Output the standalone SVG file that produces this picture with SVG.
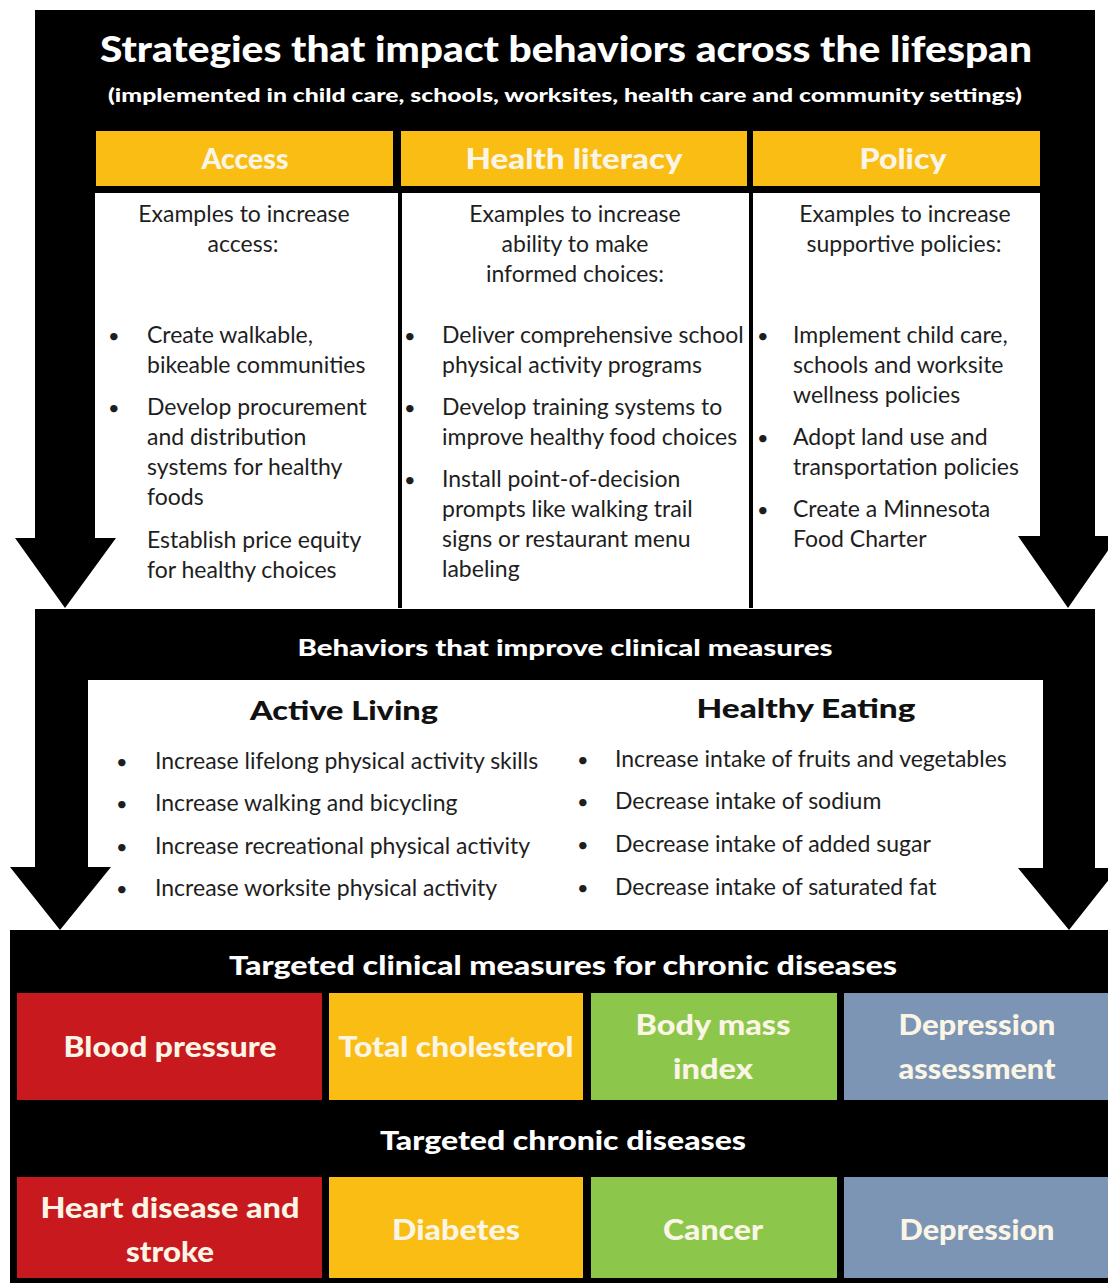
<svg xmlns="http://www.w3.org/2000/svg" width="1108" height="1283" viewBox="0 0 1108 1283">
  <style>
    .blk { fill: #000000; }
    .tab { fill: #f9bd14; }
    .panel { fill: #ffffff; }
    .h { font-family: "Lato", "Open Sans", "DejaVu Sans", sans-serif; font-weight: 900; text-anchor: middle; }
    .hw { fill: #ffffff; }
    .hc { fill: #fbf5e6; }
    .b { font-family: "Lato", "Liberation Sans", sans-serif; font-size: 23px; fill: #1e1e1e; }
    .bm { font-family: "Lato", "Liberation Sans", sans-serif; font-size: 23px; fill: #1e1e1e; }
    .dot { font-family: "Lato", "Liberation Sans", sans-serif; font-size: 20px; fill: #1e1e1e; }
    .c { text-anchor: middle; }
    .red { fill: #c8191f; }
    .gold { fill: #f9bd14; }
    .green { fill: #8cc74b; }
    .slate { fill: #7c95b4; }
  </style>

  <rect width="1108" height="1283" fill="#ffffff"/>

  <!-- Strategies header -->
  <g id="strategies-header">
    <rect class="blk" x="35" y="10" width="1060" height="183"/>
    <text class="h hw" x="566" y="62" font-size="36" textLength="932" lengthAdjust="spacingAndGlyphs">Strategies that impact behaviors across the lifespan</text>
    <text class="h hw" x="565" y="102" font-size="19" textLength="914" lengthAdjust="spacingAndGlyphs">(implemented  in child care, schools, worksites, health care and community settings)</text>
    <!-- column dividers -->
    <rect class="blk" x="398" y="186" width="4" height="422"/>
    <rect class="blk" x="749" y="186" width="4" height="422"/>
  </g>

  <!-- Access column -->
  <g id="access">
    <rect class="tab" x="96" y="131" width="297" height="55"/>
    <text class="h hc" x="245" y="169" font-size="28" textLength="87" lengthAdjust="spacingAndGlyphs">Access</text>
    <rect class="panel" x="95" y="193" width="303" height="415"/>
    <text class="b c" x="244" y="222">Examples to increase</text>
    <text class="b c" x="243" y="252">access:</text>
    <text class="dot" x="108" y="343">•</text>
    <text class="b" x="147" y="343">Create walkable,</text>
    <text class="b" x="147" y="373">bikeable communities</text>
    <text class="dot" x="108" y="415">•</text>
    <text class="b" x="147" y="415">Develop procurement</text>
    <text class="b" x="147" y="445">and distribution</text>
    <text class="b" x="147" y="475">systems for healthy</text>
    <text class="b" x="147" y="505">foods</text>
    <text class="b" x="147" y="548">Establish price equity</text>
    <text class="b" x="147" y="578">for healthy choices</text>
  </g>

  <!-- Health literacy column -->
  <g id="health-literacy">
    <rect class="tab" x="401" y="131" width="346" height="55"/>
    <text class="h hc" x="574" y="169" font-size="28" textLength="217" lengthAdjust="spacingAndGlyphs">Health literacy</text>
    <rect class="panel" x="402" y="193" width="347" height="415"/>
    <text class="b c" x="575" y="222">Examples to increase</text>
    <text class="b c" x="575" y="252">ability to make</text>
    <text class="b c" x="575" y="282">informed choices:</text>
    <text class="dot" x="404" y="343">•</text>
    <text class="b" x="442" y="343">Deliver comprehensive school</text>
    <text class="b" x="442" y="373">physical activity programs</text>
    <text class="dot" x="404" y="415">•</text>
    <text class="b" x="442" y="415">Develop training systems to</text>
    <text class="b" x="442" y="445">improve healthy food choices</text>
    <text class="dot" x="404" y="487">•</text>
    <text class="b" x="442" y="487">Install point-of-decision</text>
    <text class="b" x="442" y="517">prompts like walking trail</text>
    <text class="b" x="442" y="547">signs or restaurant menu</text>
    <text class="b" x="442" y="577">labeling</text>
  </g>

  <!-- Policy column -->
  <g id="policy">
    <rect class="tab" x="753" y="131" width="287" height="55"/>
    <text class="h hc" x="903" y="169" font-size="28" textLength="87" lengthAdjust="spacingAndGlyphs">Policy</text>
    <rect class="panel" x="753" y="193" width="287" height="415"/>
    <text class="b c" x="905" y="222">Examples to increase</text>
    <text class="b c" x="904" y="252">supportive policies:</text>
    <text class="dot" x="757" y="343">•</text>
    <text class="b" x="793" y="343">Implement child care,</text>
    <text class="b" x="793" y="373">schools and worksite</text>
    <text class="b" x="793" y="403">wellness policies</text>
    <text class="dot" x="757" y="445">•</text>
    <text class="b" x="793" y="445">Adopt land use and</text>
    <text class="b" x="793" y="475">transportation policies</text>
    <text class="dot" x="757" y="517">•</text>
    <text class="b" x="793" y="517">Create a Minnesota</text>
    <text class="b" x="793" y="547">Food Charter</text>
  </g>

  <!-- Behaviors band -->
  <g id="behaviors">
    <rect class="blk" x="35" y="609" width="1060" height="71"/>
    <text class="h hw" x="565" y="656" font-size="23" textLength="535" lengthAdjust="spacingAndGlyphs">Behaviors that improve clinical measures</text>
    <rect class="panel" x="88" y="680" width="955" height="250"/>
  </g>

  <g id="active-living">
    <text class="h" x="344" y="720" font-size="27" fill="#111" textLength="188" lengthAdjust="spacingAndGlyphs">Active Living</text>
    <text class="dot" x="116" y="769">•</text>
    <text class="bm" x="155" y="769">Increase lifelong physical activity skills</text>
    <text class="dot" x="116" y="811">•</text>
    <text class="bm" x="155" y="811">Increase walking and bicycling</text>
    <text class="dot" x="116" y="854">•</text>
    <text class="bm" x="155" y="854">Increase recreational physical activity</text>
    <text class="dot" x="116" y="896">•</text>
    <text class="bm" x="155" y="896">Increase worksite physical activity</text>
  </g>

  <g id="healthy-eating">
    <text class="h" x="806" y="718" font-size="27" fill="#111" textLength="219" lengthAdjust="spacingAndGlyphs">Healthy Eating</text>
    <text class="dot" x="577" y="767">•</text>
    <text class="bm" x="615" y="767">Increase intake of fruits and vegetables</text>
    <text class="dot" x="577" y="809">•</text>
    <text class="bm" x="615" y="809">Decrease intake of sodium</text>
    <text class="dot" x="577" y="852">•</text>
    <text class="bm" x="615" y="852">Decrease intake of added sugar</text>
    <text class="dot" x="577" y="895">•</text>
    <text class="bm" x="615" y="895">Decrease intake of saturated fat</text>
  </g>

  <!-- Outcomes block -->
  <g id="outcomes">
    <rect class="blk" x="10" y="930" width="1098" height="353"/>
    <text class="h hw" x="563" y="975" font-size="27" textLength="668" lengthAdjust="spacingAndGlyphs">Targeted clinical measures for chronic diseases</text>
    <text class="h hw" x="563" y="1150" font-size="27" textLength="366" lengthAdjust="spacingAndGlyphs">Targeted chronic diseases</text>
  </g>

  <g id="blood-pressure">
    <rect class="red" x="17" y="993" width="305" height="107"/>
    <text class="h hc" x="170" y="1057" font-size="28" textLength="213" lengthAdjust="spacingAndGlyphs">Blood pressure</text>
  </g>
  <g id="total-cholesterol">
    <rect class="gold" x="329" y="993" width="254" height="107"/>
    <text class="h hc" x="456" y="1057" font-size="28" textLength="235" lengthAdjust="spacingAndGlyphs">Total cholesterol</text>
  </g>
  <g id="body-mass-index">
    <rect class="green" x="591" y="993" width="246" height="107"/>
    <text class="h hc" x="713" y="1035" font-size="28" textLength="155" lengthAdjust="spacingAndGlyphs">Body mass</text>
    <text class="h hc" x="713" y="1079" font-size="28" textLength="80" lengthAdjust="spacingAndGlyphs">index</text>
  </g>
  <g id="depression-assessment">
    <rect class="slate" x="844" y="993" width="264" height="107"/>
    <text class="h hc" x="977" y="1035" font-size="28" textLength="157" lengthAdjust="spacingAndGlyphs">Depression</text>
    <text class="h hc" x="977" y="1079" font-size="28" textLength="157" lengthAdjust="spacingAndGlyphs">assessment</text>
  </g>

  <g id="heart-disease">
    <rect class="red" x="17" y="1177" width="305" height="101"/>
    <text class="h hc" x="170" y="1218" font-size="28" textLength="259" lengthAdjust="spacingAndGlyphs">Heart disease and</text>
    <text class="h hc" x="170" y="1262" font-size="28" textLength="88" lengthAdjust="spacingAndGlyphs">stroke</text>
  </g>
  <g id="diabetes">
    <rect class="gold" x="329" y="1177" width="254" height="101"/>
    <text class="h hc" x="456" y="1240" font-size="28" textLength="128" lengthAdjust="spacingAndGlyphs">Diabetes</text>
  </g>
  <g id="cancer">
    <rect class="green" x="591" y="1177" width="246" height="101"/>
    <text class="h hc" x="713" y="1240" font-size="28" textLength="100" lengthAdjust="spacingAndGlyphs">Cancer</text>
  </g>
  <g id="depression">
    <rect class="slate" x="844" y="1177" width="264" height="101"/>
    <text class="h hc" x="977" y="1240" font-size="28" textLength="155" lengthAdjust="spacingAndGlyphs">Depression</text>
  </g>

  <!-- Block arrows carrying each tier down to the next -->
  <g id="connectors" class="blk">
    <polygon points="35,190 95,190 95,538 116,538 65,608 15,538 35,538"/>
    <polygon points="1040,190 1095,190 1095,536 1118,536 1068,608 1018,536 1040,536"/>
    <polygon points="35,678 88,678 88,867 111,867 60,930 10,867 35,867"/>
    <polygon points="1043,678 1095,678 1095,868 1118,868 1069,930 1018,868 1043,868"/>
  </g>
</svg>
